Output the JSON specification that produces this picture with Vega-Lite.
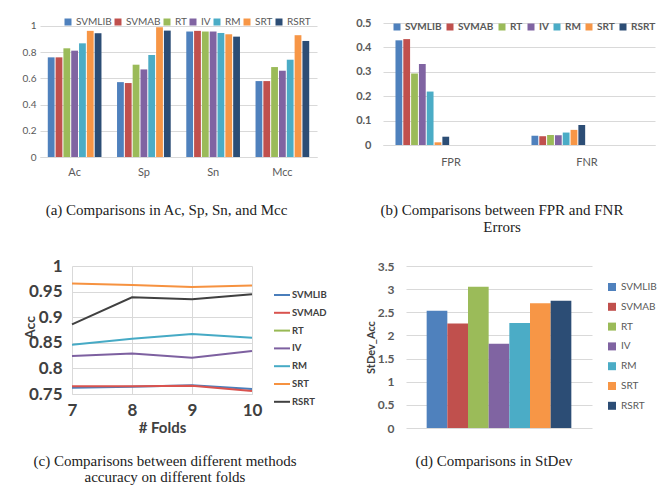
{
  "$schema": "https://vega.github.io/schema/vega-lite/v6.json",
  "padding": {"left": 0, "top": 17, "right": 0, "bottom": 0},
  "spacing": 22,
  "config": {
    "view": {"stroke": null},
    "font": "Lato",
    "axis": {"labelFont": "Lato", "titleFont": "Lato", "ticks": false, "tickSize": 0},
    "legend": {"labelFont": "Lato", "titleFont": "Lato"},
    "title": {"font": "Liberation Serif", "fontSize": 15, "fontWeight": "normal", "color": "#222222", "frame": "group"}
  },
  "resolve": {"scale": {"color": "independent"}, "legend": {"color": "independent"}},
  "datasets": {
    "spacer": [{"k": 0}],
    "a": [
      {"metric": "Ac", "method": "SVMLIB", "value": 0.76},
      {"metric": "Ac", "method": "SVMAB", "value": 0.76},
      {"metric": "Ac", "method": "RT", "value": 0.829},
      {"metric": "Ac", "method": "IV", "value": 0.811},
      {"metric": "Ac", "method": "RM", "value": 0.867},
      {"metric": "Ac", "method": "SRT", "value": 0.962},
      {"metric": "Ac", "method": "RSRT", "value": 0.944},
      {"metric": "Sp", "method": "SVMLIB", "value": 0.571},
      {"metric": "Sp", "method": "SVMAB", "value": 0.564},
      {"metric": "Sp", "method": "RT", "value": 0.704},
      {"metric": "Sp", "method": "IV", "value": 0.668},
      {"metric": "Sp", "method": "RM", "value": 0.778},
      {"metric": "Sp", "method": "SRT", "value": 0.99},
      {"metric": "Sp", "method": "RSRT", "value": 0.964},
      {"metric": "Sn", "method": "SVMLIB", "value": 0.957},
      {"metric": "Sn", "method": "SVMAB", "value": 0.962},
      {"metric": "Sn", "method": "RT", "value": 0.957},
      {"metric": "Sn", "method": "IV", "value": 0.957},
      {"metric": "Sn", "method": "RM", "value": 0.946},
      {"metric": "Sn", "method": "SRT", "value": 0.936},
      {"metric": "Sn", "method": "RSRT", "value": 0.918},
      {"metric": "Mcc", "method": "SVMLIB", "value": 0.579},
      {"metric": "Mcc", "method": "SVMAB", "value": 0.579},
      {"metric": "Mcc", "method": "RT", "value": 0.686},
      {"metric": "Mcc", "method": "IV", "value": 0.658},
      {"metric": "Mcc", "method": "RM", "value": 0.742},
      {"metric": "Mcc", "method": "SRT", "value": 0.929},
      {"metric": "Mcc", "method": "RSRT", "value": 0.885}
    ],
    "b": [
      {"metric": "FPR", "method": "SVMLIB", "value": 0.429},
      {"metric": "FPR", "method": "SVMAB", "value": 0.434},
      {"metric": "FPR", "method": "RT", "value": 0.293},
      {"metric": "FPR", "method": "IV", "value": 0.332},
      {"metric": "FPR", "method": "RM", "value": 0.219},
      {"metric": "FPR", "method": "SRT", "value": 0.011},
      {"metric": "FPR", "method": "RSRT", "value": 0.034},
      {"metric": "FNR", "method": "SVMLIB", "value": 0.038},
      {"metric": "FNR", "method": "SVMAB", "value": 0.036},
      {"metric": "FNR", "method": "RT", "value": 0.041},
      {"metric": "FNR", "method": "IV", "value": 0.040},
      {"metric": "FNR", "method": "RM", "value": 0.051},
      {"metric": "FNR", "method": "SRT", "value": 0.062},
      {"metric": "FNR", "method": "RSRT", "value": 0.082}
    ],
    "c": [
      {"fold": 7, "method": "SVMLIB", "acc": 0.762},
      {"fold": 8, "method": "SVMLIB", "acc": 0.764},
      {"fold": 9, "method": "SVMLIB", "acc": 0.767},
      {"fold": 10, "method": "SVMLIB", "acc": 0.760},
      {"fold": 7, "method": "SVMAD", "acc": 0.765},
      {"fold": 8, "method": "SVMAD", "acc": 0.765},
      {"fold": 9, "method": "SVMAD", "acc": 0.766},
      {"fold": 10, "method": "SVMAD", "acc": 0.756},
      {"fold": 7, "method": "IV", "acc": 0.824},
      {"fold": 8, "method": "IV", "acc": 0.829},
      {"fold": 9, "method": "IV", "acc": 0.821},
      {"fold": 10, "method": "IV", "acc": 0.834},
      {"fold": 7, "method": "RM", "acc": 0.846},
      {"fold": 8, "method": "RM", "acc": 0.858},
      {"fold": 9, "method": "RM", "acc": 0.867},
      {"fold": 10, "method": "RM", "acc": 0.860},
      {"fold": 7, "method": "SRT", "acc": 0.966},
      {"fold": 8, "method": "SRT", "acc": 0.963},
      {"fold": 9, "method": "SRT", "acc": 0.959},
      {"fold": 10, "method": "SRT", "acc": 0.962},
      {"fold": 7, "method": "RSRT", "acc": 0.886},
      {"fold": 8, "method": "RSRT", "acc": 0.939},
      {"fold": 9, "method": "RSRT", "acc": 0.935},
      {"fold": 10, "method": "RSRT", "acc": 0.945}
    ],
    "d": [
      {"method": "SVMLIB", "stdev": 2.532},
      {"method": "SVMAB", "stdev": 2.26},
      {"method": "RT", "stdev": 3.049},
      {"method": "IV", "stdev": 1.822},
      {"method": "RM", "stdev": 2.267},
      {"method": "SRT", "stdev": 2.697},
      {"method": "RSRT", "stdev": 2.747}
    ]
  },
  "vconcat": [
    {
      "spacing": 0,
      "resolve": {"scale": {"color": "independent"}, "legend": {"color": "independent"}},
      "hconcat": [
        {"width": 22, "height": 10, "data": {"name": "spacer"}, "mark": {"type": "point", "opacity": 0}},
        {
          "width": 277,
          "height": 134,
          "data": {"name": "a"},
          "mark": {"type": "bar"},
          "encoding": {
            "x": {"field": "metric", "type": "nominal", "sort": ["Ac", "Sp", "Sn", "Mcc"],
              "scale": {"paddingInner": 0.21, "paddingOuter": 0.105},
              "axis": {"title": null, "labelAngle": 0, "labelFontSize": 11, "labelColor": "#595959", "domainColor": "#d9d9d9", "labelPadding": 9}},
            "xOffset": {"field": "method", "type": "nominal", "sort": ["SVMLIB", "SVMAB", "RT", "IV", "RM", "SRT", "RSRT"],
              "scale": {"paddingInner": 0.13, "paddingOuter": 0.065}},
            "y": {"field": "value", "type": "quantitative", "scale": {"domain": [0, 1.022], "nice": false},
              "axis": {"title": null, "values": [0, 0.2, 0.4, 0.6, 0.8, 1], "format": "~g", "labelFontSize": 10, "labelColor": "#595959", "domain": false, "gridColor": "#d9d9d9", "labelPadding": 4, "minExtent": 18}},
            "color": {"field": "method", "type": "nominal",
              "scale": {"domain": ["SVMLIB", "SVMAB", "RT", "IV", "RM", "SRT", "RSRT"], "range": ["#4F81BD", "#C0504D", "#9BBB59", "#8064A2", "#4BACC6", "#F79646", "#2C4D75"]},
              "legend": {"orient": "none", "legendX": 23, "legendY": -6, "direction": "horizontal", "title": null, "symbolType": "square", "symbolSize": 49, "labelFontSize": 10, "labelColor": "#595959", "labelOffset": 3, "columnPadding": 1}}
          },
          "title": {"text": "(a) Comparisons in Ac, Sp, Sn, and Mcc", "orient": "bottom", "offset": 26, "dx": -12}
        },
        {
          "width": 272,
          "height": 122,
          "data": {"name": "b"},
          "mark": {"type": "bar"},
          "encoding": {
            "x": {"field": "metric", "type": "nominal", "sort": ["FPR", "FNR"],
              "scale": {"paddingInner": 0.176, "paddingOuter": 0.088},
              "axis": {"title": null, "labelAngle": 0, "labelFontSize": 11, "labelColor": "#595959", "domainColor": "#d9d9d9", "labelPadding": 11}},
            "xOffset": {"field": "method", "type": "nominal", "sort": ["SVMLIB", "SVMAB", "RT", "IV", "RM", "SRT", "RSRT"],
              "scale": {"paddingInner": 0.23, "paddingOuter": 0.115}},
            "y": {"field": "value", "type": "quantitative", "scale": {"domain": [0, 0.5]},
              "axis": {"title": null, "values": [0, 0.1, 0.2, 0.3, 0.4, 0.5], "format": "~g", "labelFontSize": 11, "labelFontWeight": "bold", "labelColor": "#595959", "domain": false, "gridColor": "#d9d9d9", "labelPadding": 12, "minExtent": 66}},
            "color": {"field": "method", "type": "nominal",
              "scale": {"domain": ["SVMLIB", "SVMAB", "RT", "IV", "RM", "SRT", "RSRT"], "range": ["#4F81BD", "#C0504D", "#9BBB59", "#8064A2", "#4BACC6", "#F79646", "#2C4D75"]},
              "legend": {"orient": "none", "legendX": 9, "legendY": -1, "direction": "horizontal", "title": null, "symbolType": "square", "symbolSize": 49, "labelFontSize": 10, "labelFontWeight": "bold", "labelColor": "#595959", "labelOffset": 3, "columnPadding": 3}}
          },
          "title": {"text": ["(b) Comparisons between FPR and FNR", "Errors"], "orient": "bottom", "offset": 36, "dx": -17, "lineHeight": 17}
        }
      ]
    },
    {
      "spacing": 0,
      "resolve": {"scale": {"color": "independent"}, "legend": {"color": "independent"}},
      "hconcat": [
        {"width": 22, "height": 10, "data": {"name": "spacer"}, "mark": {"type": "point", "opacity": 0}},
        {
          "width": 180,
          "height": 128,
          "data": {"name": "c"},
          "mark": {"type": "line", "strokeWidth": 2},
          "encoding": {
            "x": {"field": "fold", "type": "quantitative", "scale": {"domain": [7, 10], "nice": false, "zero": false},
              "axis": {"title": "# Folds", "values": [7, 8, 9, 10], "labelFlush": false, "labelFontSize": 17, "labelFontWeight": "bold", "labelColor": "#404040", "titleFontSize": 15, "titleFontWeight": "bold", "titleColor": "#404040", "labelPadding": 8, "titlePadding": 2, "gridColor": "#d9d9d9", "domainColor": "#d9d9d9"}},
            "y": {"field": "acc", "type": "quantitative", "scale": {"domain": [0.75, 1], "zero": false, "nice": false},
              "axis": {"title": "Acc", "values": [0.75, 0.8, 0.85, 0.9, 0.95, 1], "format": "~g", "labelFontSize": 17, "labelFontWeight": "bold", "labelColor": "#404040", "titleFontSize": 14, "titleFontWeight": "bold", "titleColor": "#404040", "titleX": -42, "titleY": 61, "titleAngle": 270, "titleBaseline": "middle", "titleAlign": "center", "labelPadding": 10, "domain": false, "gridColor": "#d9d9d9", "minExtent": 50}},
            "color": {"field": "method", "type": "nominal",
              "scale": {"domain": ["SVMLIB", "SVMAD", "RT", "IV", "RM", "SRT", "RSRT"], "range": ["#4A7EBB", "#D9534F", "#98B954", "#7D60A0", "#46AAC5", "#F69240", "#404040"]},
              "legend": {"orient": "none", "legendX": 201, "legendY": 20, "title": null, "symbolType": "stroke", "symbolSize": 256, "symbolStrokeWidth": 2, "labelFontSize": 9.5, "labelFontWeight": "bold", "labelColor": "#404040", "labelOffset": 1, "rowPadding": 3.8}}
          },
          "title": {"text": ["(c) Comparisons between different methods", "accuracy on different folds"], "orient": "bottom", "offset": 19, "dx": 3, "lineHeight": 16}
        },
        {
          "width": 186,
          "height": 162,
          "data": {"name": "d"},
          "mark": {"type": "bar"},
          "encoding": {
            "x": {"field": "method", "type": "nominal", "sort": ["SVMLIB", "SVMAB", "RT", "IV", "RM", "SRT", "RSRT"],
              "scale": {"paddingInner": 0, "paddingOuter": 1.08}, "axis": null},
            "y": {"field": "stdev", "type": "quantitative", "scale": {"domain": [0, 3.5]},
              "axis": {"title": "StDev_Acc", "values": [0, 0.5, 1, 1.5, 2, 2.5, 3, 3.5], "format": "~g", "labelFontSize": 12, "labelFontWeight": "bold", "labelColor": "#595959", "titleFontSize": 11, "titleFontWeight": "bold", "titleColor": "#404040", "titleX": -35, "titleY": 81, "titleAngle": 270, "titleBaseline": "middle", "titleAlign": "center", "labelPadding": 12, "domain": false, "gridColor": "#d9d9d9", "minExtent": 79}},
            "color": {"field": "method", "type": "nominal",
              "scale": {"domain": ["SVMLIB", "SVMAB", "RT", "IV", "RM", "SRT", "RSRT"], "range": ["#4F81BD", "#C0504D", "#9BBB59", "#8064A2", "#4BACC6", "#F79646", "#2C4D75"]},
              "legend": {"orient": "none", "legendX": 201, "legendY": 16, "title": null, "symbolType": "square", "symbolSize": 64, "labelFontSize": 10, "labelColor": "#595959", "labelOffset": 4, "rowPadding": 9.8}}
          },
          "title": {"text": "(d) Comparisons in StDev", "orient": "bottom", "offset": 20, "dx": -5}
        }
      ]
    }
  ]
}
